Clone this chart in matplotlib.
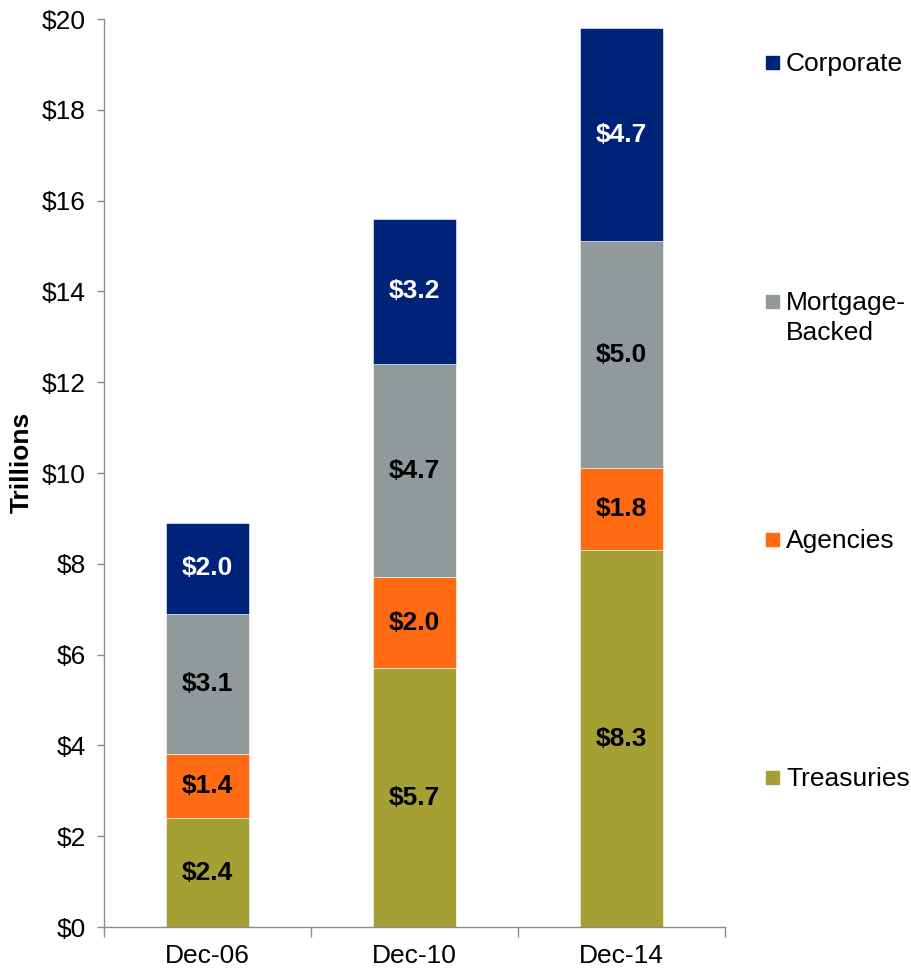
import matplotlib
matplotlib.use("Agg")
import matplotlib.pyplot as plt
from matplotlib.patches import Rectangle

plt.rcParams['font.family'] = ['Liberation Sans', 'DejaVu Sans']

periods = ["Dec-06", "Dec-10", "Dec-14"]
series_names = ["Treasuries", "Agencies", "Mortgage-\nBacked", "Corporate"]
treasuries = [2.4, 5.7, 8.3]
agencies = [1.4, 2.0, 1.8]
mortgage_backed = [3.1, 4.7, 5.0]
corporate = [2.0, 3.2, 4.7]
y_ticks = [0, 2, 4, 6, 8, 10, 12, 14, 16, 18, 20]
y_tick_labels = ["$0", "$2", "$4", "$6", "$8", "$10", "$12", "$14", "$16", "$18", "$20"]

colors = ["#A5A034", "#FF6A13", "#92999B", "#00237A"]
text_colors = ["black", "black", "black", "white"]
stack = [treasuries, agencies, mortgage_backed, corporate]

FS = 19

fig = plt.figure(figsize=(9.11, 9.71), dpi=100)
ax = fig.add_axes([0.1142, 0.0453, 0.6816, 0.9351])

x = list(range(len(periods)))
bottoms = [0.0] * len(periods)
for vals, col, tcol in zip(stack, colors, text_colors):
    ax.bar(x, vals, width=0.4, bottom=bottoms, color=col,
           edgecolor="white", linewidth=0.4, zorder=2)
    for xi, v, b in zip(x, vals, bottoms):
        ax.text(xi, b + v / 2, f"${v:.1f}", ha="center", va="center",
                fontsize=FS, fontweight="bold", color=tcol, zorder=3)
    bottoms = [b + v for b, v in zip(bottoms, vals)]

ax.set_xlim(-0.5, 2.5)
ax.set_ylim(0, 20)
ax.set_yticks(y_ticks)
ax.set_yticklabels(y_tick_labels, fontsize=FS)
ax.set_xticks(x)
ax.set_xticklabels(periods, fontsize=FS)
ax.set_xticks([-0.5, 0.5, 1.5, 2.5], minor=True)
ax.tick_params(axis="x", which="major", length=0, pad=12)
ax.tick_params(axis="x", which="minor", length=7, width=1, color="#8C8C8C", direction="out")
ax.tick_params(axis="y", length=5, width=1, color="#8C8C8C", direction="out", pad=8)

W, H = 911, 971
fig.text(22 / W, 1 - 462 / H, "Trillions", fontsize=FS, fontweight="bold",
         rotation=90, ha="center", va="center")

for side in ["top", "right"]:
    ax.spines[side].set_visible(False)
for side in ["left", "bottom"]:
    ax.spines[side].set_color("#8C8C8C")
    ax.spines[side].set_linewidth(1)

# legend: top-down Corporate, Mortgage-Backed, Agencies, Treasuries
legend_rows = [62, 301, 539, 777]
for name, col, ypix in zip(series_names[::-1], colors[::-1], legend_rows):
    fig.patches.append(Rectangle((766 / W, 1 - (ypix + 7) / H), 13 / W, 13 / H,
                                 transform=fig.transFigure, color=col))
    fig.text(786 / W, 1 - (ypix - 10) / H, name, fontsize=FS, ha="left", va="top",
             linespacing=1.3)

fig.savefig("out.png", dpi=100)
